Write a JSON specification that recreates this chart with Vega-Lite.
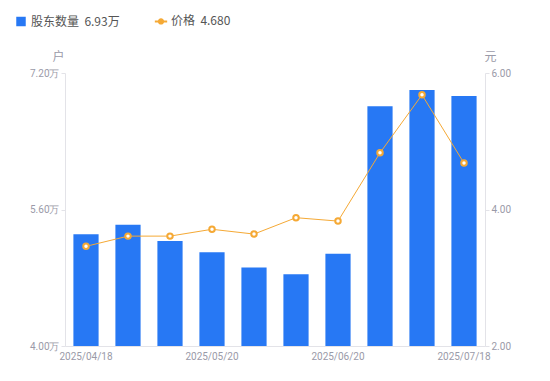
{
  "$schema": "https://vega.github.io/schema/vega-lite/v6.json",
  "width": 420,
  "height": 273,
  "autosize": {"type": "none"},
  "padding": {"left": 65, "top": 73, "right": 65, "bottom": 35},
  "background": "#ffffff",
  "config": {
    "view": {"stroke": null},
    "font": "Noto Sans CJK SC",
    "axis": {"labelFont": "Roboto", "labelColor": "#9a9aa8", "domainColor": "#e3e3e8", "tickColor": "#e3e3e8", "grid": false, "titleFont": "Noto Sans CJK SC", "titleFontWeight": "normal", "titleColor": "#9a9aa8", "titleFontSize": 12}
  },
  "data": {"values": [
    {"date": "2025/04/18", "holders": 5.31, "price": 3.46},
    {"date": "2025/04/30", "holders": 5.42, "price": 3.61},
    {"date": "2025/05/10", "holders": 5.23, "price": 3.61},
    {"date": "2025/05/20", "holders": 5.10, "price": 3.71},
    {"date": "2025/05/31", "holders": 4.92, "price": 3.64},
    {"date": "2025/06/10", "holders": 4.84, "price": 3.88},
    {"date": "2025/06/20", "holders": 5.08, "price": 3.83},
    {"date": "2025/06/30", "holders": 6.81, "price": 4.83},
    {"date": "2025/07/10", "holders": 7.00, "price": 5.68},
    {"date": "2025/07/18", "holders": 6.93, "price": 4.68}
  ]},
  "encoding": {
    "x": {"field": "date", "type": "ordinal", "sort": null,
      "scale": {"paddingInner": 0.4, "paddingOuter": 0.2},
      "axis": {"title": null, "values": ["2025/04/18", "2025/05/20", "2025/06/20", "2025/07/18"], "labelAngle": 0, "ticks": false, "labelFontSize": 10, "labelPadding": 5, "domainColor": "#e3e3e8"}}
  },
  "layer": [
    {
      "mark": {"type": "bar", "color": "#2778f4", "clip": true},
      "encoding": {
        "y": {"field": "holders", "type": "quantitative",
          "scale": {"domain": [4, 7.2], "zero": false, "nice": false},
          "axis": {"orient": "left", "values": [4, 5.6, 7.2], "labelExpr": "format(datum.value, '.2f') + '万'", "labelFontSize": 10, "tickSize": 4, "labelPadding": 2,
            "title": "户", "titleAngle": 0, "titleX": -7, "titleY": -10, "titleAlign": "center", "titleBaseline": "bottom"}},
        "color": {"datum": "股东数量", "type": "nominal",
          "scale": {"domain": ["股东数量", "价格"], "range": ["#2778f4", "#f5a935"]},
          "legend": {"orient": "none", "legendX": -50, "legendY": -58, "direction": "horizontal", "title": null,
            "labelExpr": "datum.value == '股东数量' ? datum.value + '\u00a0\u00a06.93万' : datum.value + '\u00a0\u00a04.680'",
            "labelFontSize": 12, "labelColor": "#555555", "labelFont": "Noto Sans CJK SC", "columnPadding": 30, "symbolSize": 90,
            "encode": {"symbols": {"update": {
              "shape": {"signal": "datum.value == '股东数量' ? 'square' : 'M-1.3,0L-0.45,0M0.45,0L1.3,0M0.45,0A0.45,0.45 0 1,1 -0.45,0A0.45,0.45 0 1,1 0.45,0'"},
              "fill": {"signal": "datum.value == '股东数量' ? '#2778f4' : 'transparent'"},
              "stroke": {"signal": "datum.value == '股东数量' ? '#2778f4' : '#f5a935'"},
              "strokeWidth": {"signal": "datum.value == '股东数量' ? 0 : 2"}
            }}}}}
      }
    },
    {
      "mark": {"type": "line", "color": "#f5a935", "strokeWidth": 1},
      "encoding": {
        "y": {"field": "price", "type": "quantitative",
          "scale": {"domain": [2, 6], "zero": false, "nice": false},
          "axis": {"orient": "right", "values": [2, 4, 6], "format": ".2f", "labelFontSize": 10, "tickSize": 4, "labelPadding": 2,
            "title": "元", "titleAngle": 0, "titleX": 5, "titleY": -10, "titleAlign": "center", "titleBaseline": "bottom"}}
      }
    },
    {
      "mark": {"type": "point", "shape": "circle", "filled": true, "fill": "#ffffff", "stroke": "#f5a935", "strokeWidth": 2, "size": 30, "opacity": 1},
      "encoding": {
        "y": {"field": "price", "type": "quantitative", "scale": {"domain": [2, 6], "zero": false, "nice": false}, "axis": null}
      }
    }
  ],
  "resolve": {"scale": {"y": "independent"}, "axis": {"y": "independent"}}
}
